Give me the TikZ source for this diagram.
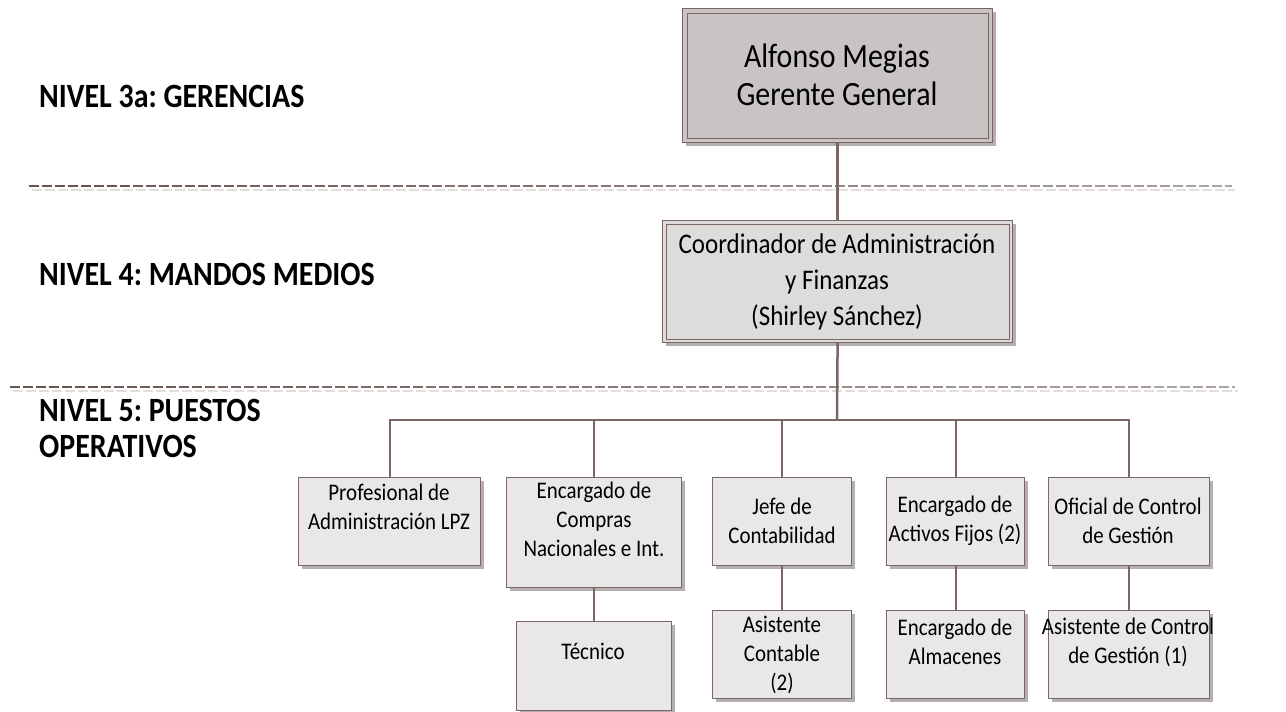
\documentclass[tikz,border=0pt]{standalone}
\usepackage{fontspec}
\setmainfont[FakeStretch=0.88]{Carlito}
\usetikzlibrary{shadows,calc}
\definecolor{edge}{HTML}{7A6662}
\definecolor{fillA}{HTML}{C9C4C4}
\definecolor{fillB}{HTML}{DEDBDB}
\definecolor{fillC}{HTML}{E9E7E7}
\definecolor{dashs}{HTML}{6B5550}
\definecolor{dashe}{HTML}{ABA3A1}
\definecolor{dashl}{HTML}{E2DEDD}
\definecolor{shad}{HTML}{B5B0B0}
\begin{document}
\frenchspacing
\begin{tikzpicture}[x=1pt,y=-1pt,
  box/.style={draw=edge, line width=1.2pt, fill=fillC, inner sep=0pt, anchor=north west,
    drop shadow={shadow xshift=3.5pt, shadow yshift=-3.5pt, fill=shad, opacity=1}},
  bigbox/.style={box, fill=fillA},
  midbox/.style={box, fill=fillB},
  inner/.style={draw=edge, line width=1pt},
  txt/.style={align=center, inner sep=0pt, font=\fontsize{23.8}{29}\selectfont},
  lvl/.style={anchor=base west, inner sep=0pt, align=left, font=\fontsize{34}{36}\selectfont\bfseries},
  conn/.style={draw=edge, line width=2pt},
  sepd/.style={line width=1.6pt, dash pattern=on 10pt off 3pt},
  sepl/.style={draw=dashl, line width=2pt, dash pattern=on 10pt off 3pt},
]
\useasboundingbox (0,0) rectangle (1286,712);

% level separators (dark dashes fading to grey, light shadow below)
\foreach \yy/\xa/\xb in {186/29/1232, 387/10/1235}{
  \draw[sepl] (\xa+3,\yy+3.5) -- (\xb+3,\yy+3.5);
  \foreach \i in {0,...,11}{
    \pgfmathsetmacro{\sa}{\xa+104*\i}
    \pgfmathsetmacro{\sb}{min(\xa+104*(\i+1),\xb)}
    \pgfmathsetmacro{\pc}{100-\i*100/11}
    \draw[sepd, draw=dashs!\pc!dashe] (\sa,\yy) -- (\sb,\yy);
  }
}

% level labels
\node[lvl] (l3) at (39,107) {NIVEL 3a: GERENCIAS};
\node[lvl] (l4) at (39,285) {NIVEL 4: MANDOS MEDIOS};
\node[lvl] (l5) at (39,457) {NIVEL 5: PUESTOS\\OPERATIVOS};

% boxes
\node[bigbox, minimum width=310pt, minimum height=134pt] (gg) at (682,8) {};
\draw[inner] ($(gg.north west)+(5,5)$) rectangle ($(gg.south east)+(-5,-5)$);
\node[txt, font=\fontsize{34}{38}\selectfont] (ggt) at (837,75) {Alfonso Megias\\Gerente General};

\node[midbox, minimum width=350pt, minimum height=122pt] (co) at (662,220) {};
\draw[inner] ($(co.north west)+(4,4)$) rectangle ($(co.south east)+(-4,-4)$);
\node[txt, font=\fontsize{28.4}{36}\selectfont] (cot) at (837,282) {Coordinador de Administración\\y Finanzas\\(Shirley Sánchez)};

\node[box, minimum width=182pt, minimum height=88pt] (b1) at (298,477) {};
\node[txt] (b1t) at (389,507) {Profesional de\\Administración LPZ};

\node[box, minimum width=175pt, minimum height=110pt] (b2) at (506,477) {};
\node[txt] (b2t) at (594,519) {Encargado de\\Compras\\Nacionales e Int.};

\node[box, minimum width=155pt, minimum height=89pt] (c2) at (516,621) {};
\node[txt] (c2t) at (593,651) {Técnico};

\node[box, minimum width=139pt, minimum height=88pt] (b3) at (712,477) {};
\node[txt] (b3t) at (782,521) {Jefe de\\Contabilidad};

\node[box, minimum width=139pt, minimum height=88pt] (c3) at (712,610) {};
\node[txt] (c3t) at (782,655) {Asistente\\Contable\\(2)};

\node[box, minimum width=138pt, minimum height=88pt] (b4) at (886,477) {};
\node[txt] (b4t) at (955,521) {Encargado de\\Activos Fijos (2)};

\node[box, minimum width=138pt, minimum height=88pt] (c4) at (886,610) {};
\node[txt] (c4t) at (955,642) {Encargado de\\Almacenes};

\node[box, minimum width=161pt, minimum height=88pt] (b5) at (1048,477) {};
\node[txt] (b5t) at (1128,521) {Oficial de Control\\de Gestión};

\node[box, minimum width=161pt, minimum height=88pt] (c5) at (1048,610) {};
\node[txt] (c5t) at (1128,642) {Asistente de Control\\de Gestión (1)};

% connectors
\coordinate (bus) at (837,420);
\draw[conn, line width=2.5pt] (gg.south) -- (co.north);
\draw[conn, line width=2.5pt] (co.south) -- (bus);
\draw[conn] (b1.north) |- (bus);
\draw[conn] (b5.north) |- (bus);
\draw[conn] (b2.north) -- (b2.north |- bus);
\draw[conn] (b3.north) -- (b3.north |- bus);
\draw[conn] (b4.north) -- (b4.north |- bus);
\draw[conn] (b2.south) -- (c2.north);
\draw[conn] (b3.south) -- (c3.north);
\draw[conn] (b4.south) -- (c4.north);
\draw[conn] (b5.south) -- (c5.north);
\end{tikzpicture}
\end{document}
